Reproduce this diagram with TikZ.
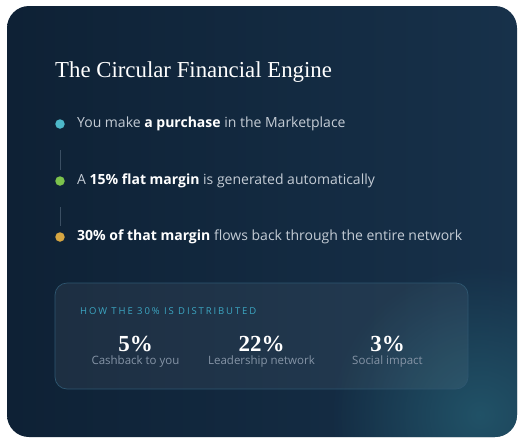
\documentclass[tikz,border=0pt]{standalone}
\usepackage{fontspec}
\setmainfont{Liberation Serif}
\setsansfont{Open Sans}
\usetikzlibrary{positioning,fadings}

\definecolor{cardA}{HTML}{0E2135}
\definecolor{cardB}{HTML}{17314A}
\definecolor{glowC}{HTML}{215267}
\definecolor{bodyC}{HTML}{C4CCD5}
\definecolor{mutedC}{HTML}{8594A6}
\definecolor{headC}{HTML}{3CA6C2}
\definecolor{lineC}{HTML}{3B4F63}
\definecolor{boxLine}{HTML}{2E5670}
\definecolor{dotCyan}{HTML}{4DB8C9}
\definecolor{dotGreen}{HTML}{7CC24C}
\definecolor{dotGold}{HTML}{D6A642}

\tikzfading[name=glowfade, inner color=transparent!0, outer color=transparent!100]

\tikzset{
  dot/.style={circle, minimum size=9.5pt, inner sep=0pt},
  steptext/.style={font=\sffamily\fontsize{14}{16}\selectfont, text=bodyC, inner sep=0pt, anchor=west},
  linkline/.style={draw=lineC, line width=0.8pt},
  sharenum/.style={font=\bfseries\fontsize{23}{26}\selectfont, text=white, inner sep=0pt, anchor=base},
  sharelabel/.style={font=\sffamily\fontsize{11.5}{13}\selectfont, text=mutedC, inner sep=0pt, anchor=base}
}
\newcommand{\hi}[1]{\textcolor{white}{\bfseries #1}}
\newcommand{\drawStep}[4]{
  \node[dot, fill=#3] (#1) at (60,#2) {};
  \node[steptext, right=12pt of #1] (#1txt) {#4};
}
\newcommand{\drawShare}[4]{
  \node[sharenum] (#1) at (#2,351) {#3};
  \node[sharelabel] (#1lbl) at (#2,364) {#4};
}

\begin{document}
\begin{tikzpicture}[x=1pt, y=-1pt]
\useasboundingbox (0,0) rectangle (521,442);

% Card with its glow
\shade[rounded corners=22pt, left color=cardA, right color=cardB] (7,6) rectangle (517,437);
\begin{scope}
  \clip[rounded corners=22pt] (7,6) rectangle (517,437);
  \fill[glowC, path fading=glowfade] (480,415) circle (150);
\end{scope}

% Title
\node[font=\fontsize{22.8}{26}\selectfont, text=white, inner sep=0pt, anchor=base west] (title) at (55,77) {The Circular Financial Engine};

% Steps
\drawStep{s1}{124}{dotCyan}{You make \hi{a purchase} in the Marketplace}
\drawStep{s2}{181}{dotGreen}{A \hi{15\% flat margin} is generated automatically}
\drawStep{s3}{237}{dotGold}{\hi{30\% of that margin} flows back through the entire network}

\draw[linkline] ([yshift=-21pt]s1.south) -- ([yshift=6pt]s2.north);
\draw[linkline] ([yshift=-21pt]s2.south) -- ([yshift=6pt]s3.north);

% Distribution box
\draw[boxLine, line width=0.7pt, fill=white, fill opacity=0.06, rounded corners=12pt] (55,283) rectangle (468,389);
\node[font=\sffamily\fontsize{9.5}{11}\selectfont\addfontfeature{LetterSpace=20}, text=headC, inner sep=0pt, anchor=west] (head) at (80,311) {HOW THE 30\% IS DISTRIBUTED};

\drawShare{p1}{135.5}{5\%}{Cashback to you}
\drawShare{p2}{261.5}{22\%}{Leadership network}
\drawShare{p3}{387.5}{3\%}{Social impact}

\end{tikzpicture}
\end{document}
